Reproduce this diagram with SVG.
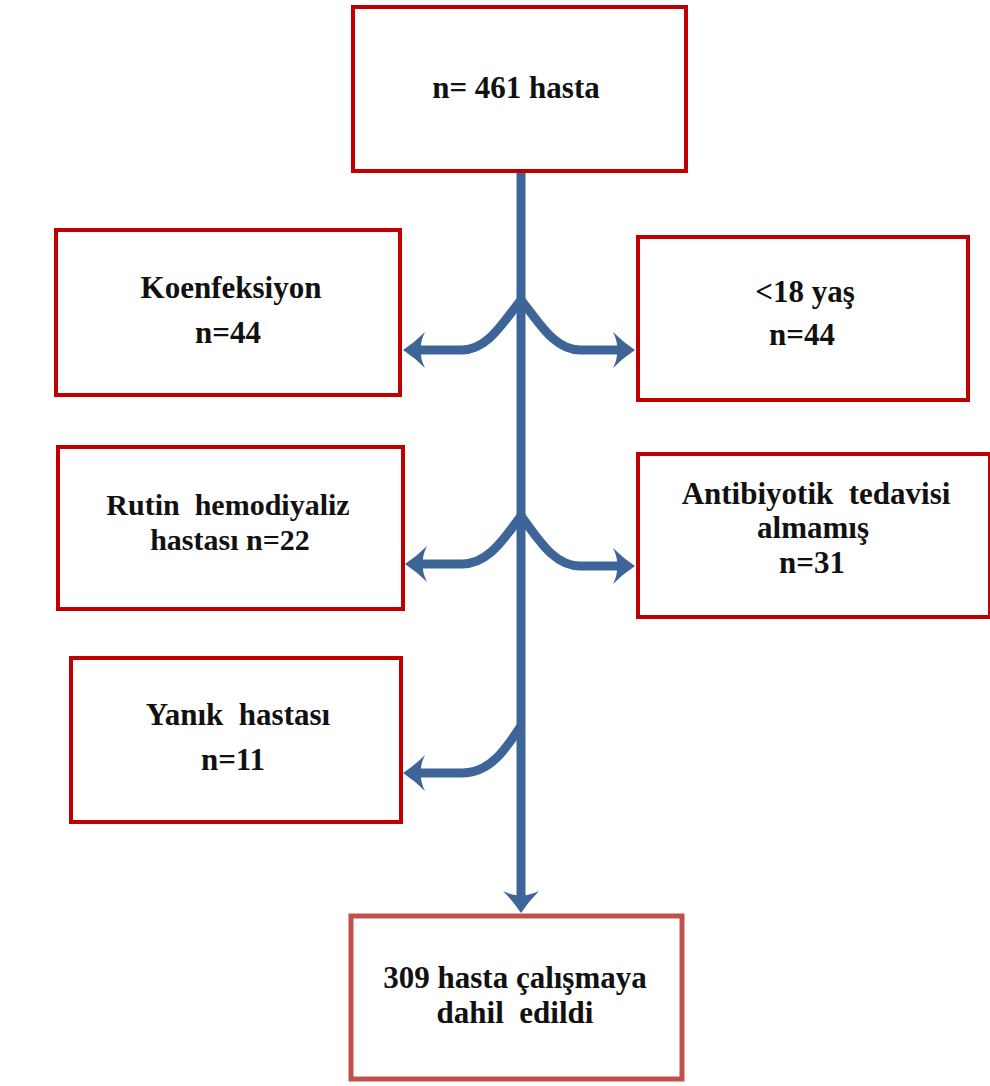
<svg xmlns="http://www.w3.org/2000/svg" width="990" height="1086" viewBox="0 0 990 1086">
<defs>
<style>
.box{fill:#ffffff;stroke:#c00000;stroke-width:4}
.box2{fill:#ffffff;stroke:#c0504d;stroke-width:5}
.t{font-family:"Liberation Serif","Times New Roman",serif;font-weight:bold;font-size:31px;fill:#111111;text-anchor:middle;white-space:pre}
.ln{fill:none;stroke:#3e6598;stroke-width:9}
</style>
<marker id="ah" markerUnits="userSpaceOnUse" orient="auto" refX="0" refY="0" markerWidth="40" markerHeight="40" overflow="visible">
<path d="M15,0 Q3,-8 -7,-18 Q-2,-8 -3,0 Q-2,8 -7,18 Q3,8 15,0 Z" fill="#3e6598"/>
</marker>
</defs>
<rect width="990" height="1086" fill="#ffffff"/>
<g id="connectors">
<path class="ln" d="M521,171 L521,898" marker-end="url(#ah)"/>
<path class="ln" d="M521,300 C503,322 488,350 462,350 L418,350" marker-end="url(#ah)"/>
<path class="ln" d="M521,300 C539,322 554,350 580,350 L620,350" marker-end="url(#ah)"/>
<path class="ln" d="M521,516 C503,540 488,564 462,564 L420,564" marker-end="url(#ah)"/>
<path class="ln" d="M521,516 C539,540 554,566 580,566 L620,566" marker-end="url(#ah)"/>
<path class="ln" d="M521,726 C505,750 490,773 462,773 L418,773" marker-end="url(#ah)"/>
</g>
<g id="n-top">
<rect class="box" x="353" y="7" width="333" height="164"/>
<text class="t" x="516" y="98">n= 461 hasta</text>
</g>
<g id="n-koenfeksiyon">
<rect class="box" x="56" y="230" width="344" height="165"/>
<text class="t" x="231" y="298">Koenfeksiyon</text>
<text class="t" x="228" y="343">n=44</text>
</g>
<g id="n-yas">
<rect class="box" x="638" y="237" width="330" height="163"/>
<text class="t" x="805" y="302">&lt;18 yaş</text>
<text class="t" x="802" y="345">n=44</text>
</g>
<g id="n-rutin">
<rect class="box" x="58" y="447" width="345" height="162"/>
<text class="t" x="228" y="515" style="font-size:30px">Rutin  hemodiyaliz</text>
<text class="t" x="230" y="550" style="font-size:30px">hastası n=22</text>
</g>
<g id="n-antibiyotik">
<rect class="box" x="638" y="454" width="352" height="163"/>
<text class="t" x="816" y="504">Antibiyotik  tedavisi</text>
<text class="t" x="813" y="538">almamış</text>
<text class="t" x="812" y="573">n=31</text>
</g>
<g id="n-yanik">
<rect class="box" x="71" y="658" width="330" height="164"/>
<text class="t" x="238" y="725">Yanık  hastası</text>
<text class="t" x="233" y="770">n=11</text>
</g>
<g id="n-bottom">
<rect class="box2" x="351" y="916" width="331" height="163"/>
<text class="t" x="515" y="988">309 hasta çalışmaya</text>
<text class="t" x="515" y="1023">dahil  edildi</text>
</g>
</svg>
